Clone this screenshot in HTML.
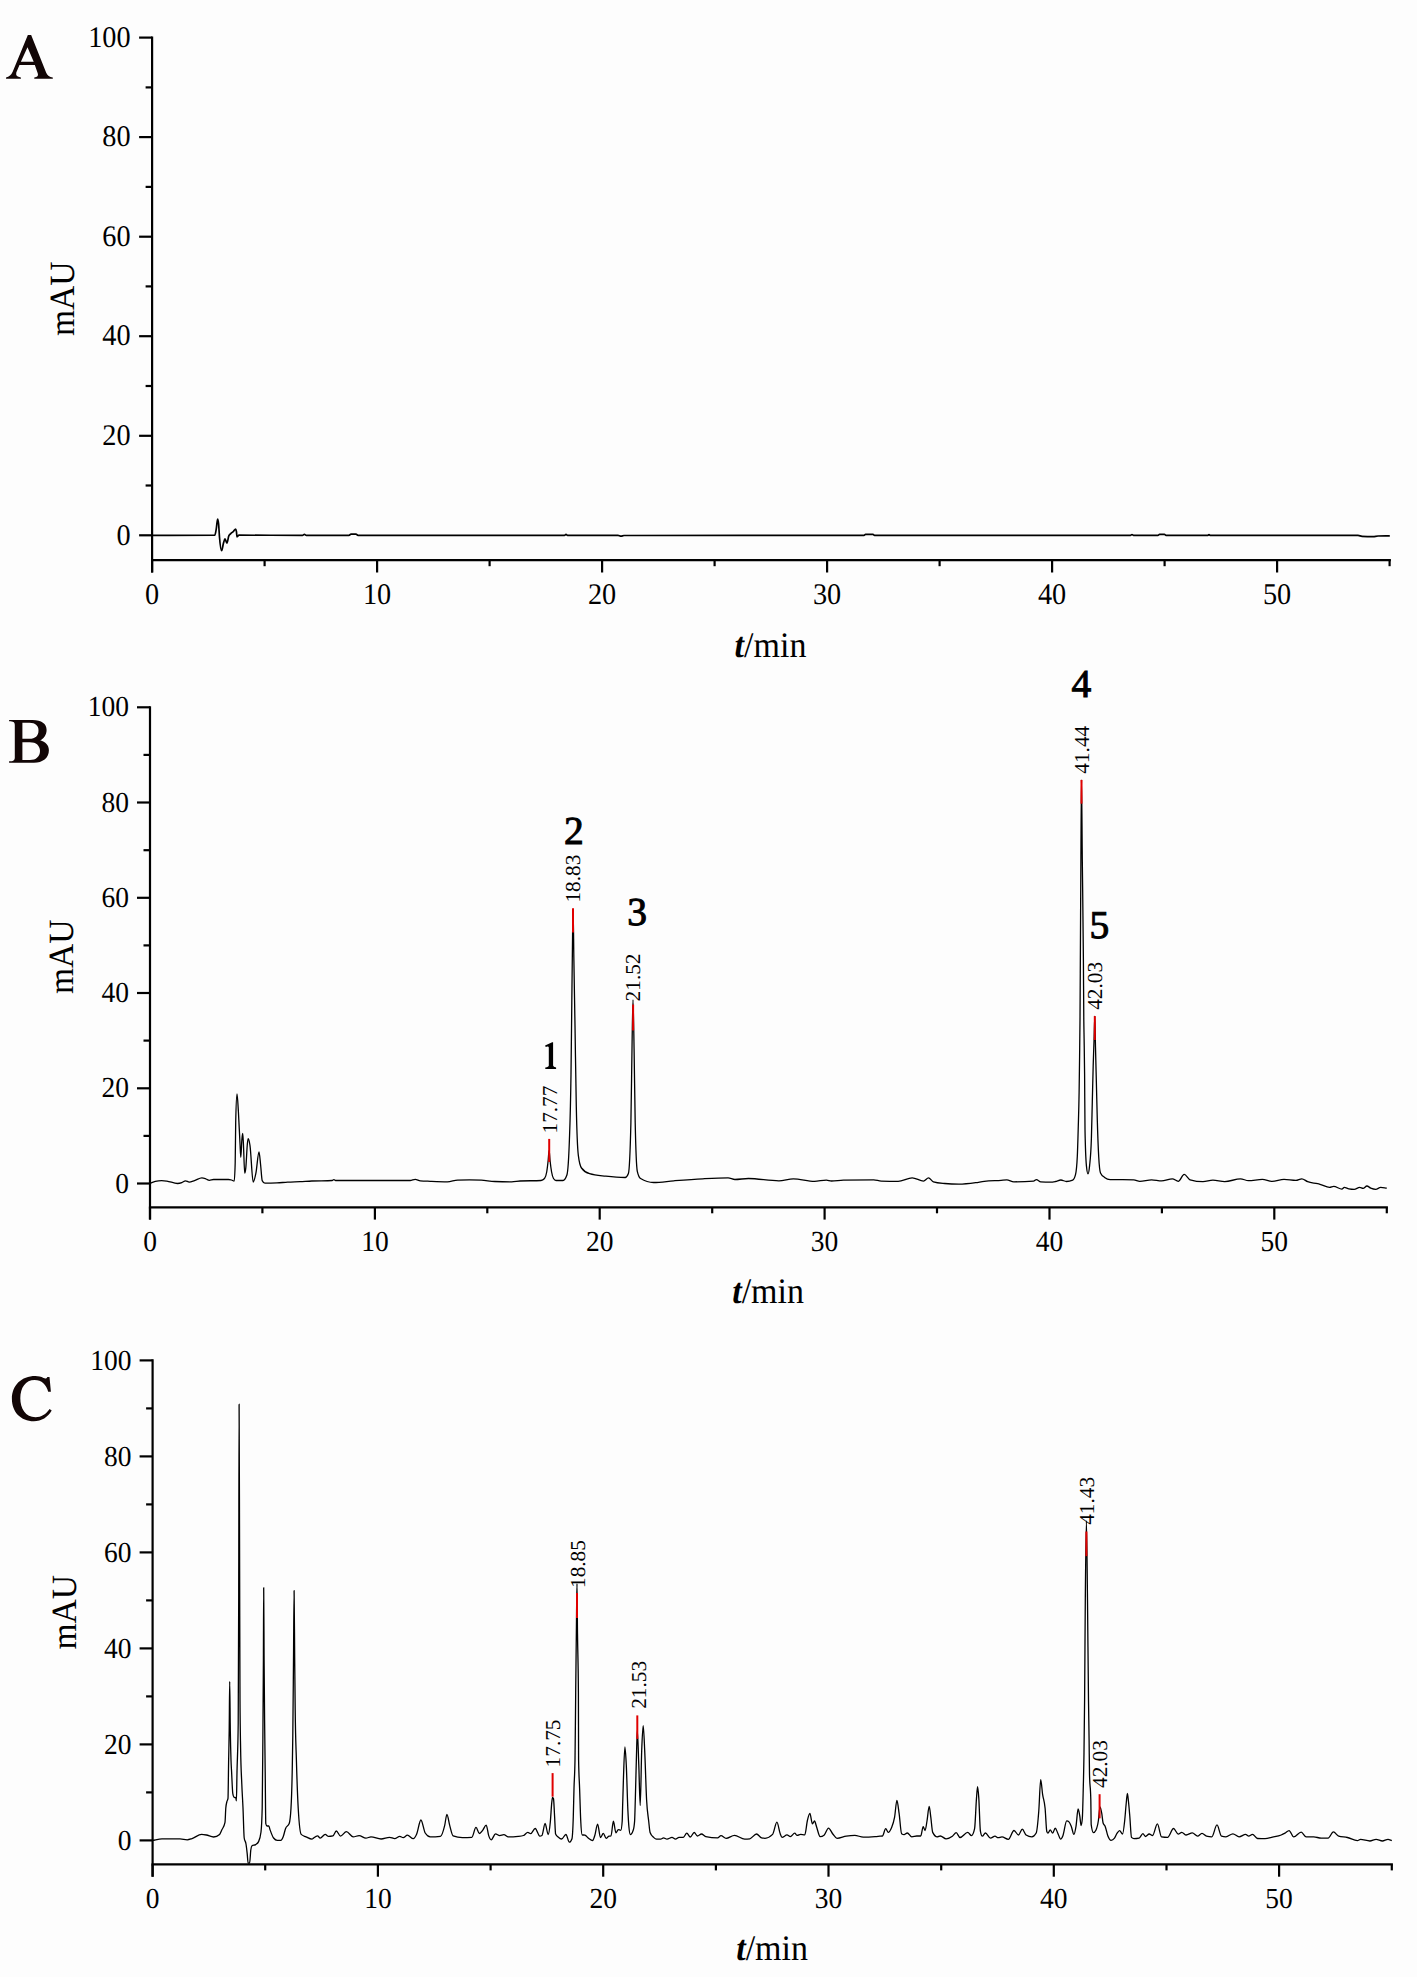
<!DOCTYPE html>
<html><head><meta charset="utf-8"><style>
html,body{margin:0;padding:0;background:#fdfdfd;}
body{width:1417px;height:1977px;overflow:hidden;font-family:"Liberation Serif",serif;}
svg{display:block}
</style></head><body>
<svg width="1417" height="1977" viewBox="0 0 1417 1977" font-family="Liberation Serif" text-rendering="geometricPrecision">
<line x1="152.1" y1="36.5" x2="152.1" y2="572.5" stroke="#000" stroke-width="2.2"/>
<line x1="151.0" y1="560.2" x2="1390.9" y2="560.2" stroke="#000" stroke-width="2.2"/>
<line x1="139.1" y1="535.3" x2="152.1" y2="535.3" stroke="#000" stroke-width="2.2"/>
<text transform="translate(130.6,544.5) scale(1,1.06)" font-size="28.3" text-anchor="end">0</text>
<line x1="145.6" y1="485.5" x2="152.1" y2="485.5" stroke="#000" stroke-width="2.2"/>
<line x1="139.1" y1="435.8" x2="152.1" y2="435.8" stroke="#000" stroke-width="2.2"/>
<text transform="translate(130.6,445.0) scale(1,1.06)" font-size="28.3" text-anchor="end">20</text>
<line x1="145.6" y1="386.0" x2="152.1" y2="386.0" stroke="#000" stroke-width="2.2"/>
<line x1="139.1" y1="336.2" x2="152.1" y2="336.2" stroke="#000" stroke-width="2.2"/>
<text transform="translate(130.6,345.4) scale(1,1.06)" font-size="28.3" text-anchor="end">40</text>
<line x1="145.6" y1="286.4" x2="152.1" y2="286.4" stroke="#000" stroke-width="2.2"/>
<line x1="139.1" y1="236.7" x2="152.1" y2="236.7" stroke="#000" stroke-width="2.2"/>
<text transform="translate(130.6,245.9) scale(1,1.06)" font-size="28.3" text-anchor="end">60</text>
<line x1="145.6" y1="186.9" x2="152.1" y2="186.9" stroke="#000" stroke-width="2.2"/>
<line x1="139.1" y1="137.1" x2="152.1" y2="137.1" stroke="#000" stroke-width="2.2"/>
<text transform="translate(130.6,146.3) scale(1,1.06)" font-size="28.3" text-anchor="end">80</text>
<line x1="145.6" y1="87.4" x2="152.1" y2="87.4" stroke="#000" stroke-width="2.2"/>
<line x1="139.1" y1="37.6" x2="152.1" y2="37.6" stroke="#000" stroke-width="2.2"/>
<text transform="translate(130.6,46.8) scale(1,1.06)" font-size="28.3" text-anchor="end">100</text>
<line x1="152.1" y1="560.2" x2="152.1" y2="572.5" stroke="#000" stroke-width="2.2"/>
<text transform="translate(152.1,603.8) scale(1,1.06)" font-size="28.3" text-anchor="middle">0</text>
<line x1="264.6" y1="560.2" x2="264.6" y2="566.2" stroke="#000" stroke-width="2.2"/>
<line x1="377.1" y1="560.2" x2="377.1" y2="572.5" stroke="#000" stroke-width="2.2"/>
<text transform="translate(377.1,603.8) scale(1,1.06)" font-size="28.3" text-anchor="middle">10</text>
<line x1="489.6" y1="560.2" x2="489.6" y2="566.2" stroke="#000" stroke-width="2.2"/>
<line x1="602.1" y1="560.2" x2="602.1" y2="572.5" stroke="#000" stroke-width="2.2"/>
<text transform="translate(602.1,603.8) scale(1,1.06)" font-size="28.3" text-anchor="middle">20</text>
<line x1="714.6" y1="560.2" x2="714.6" y2="566.2" stroke="#000" stroke-width="2.2"/>
<line x1="827.1" y1="560.2" x2="827.1" y2="572.5" stroke="#000" stroke-width="2.2"/>
<text transform="translate(827.1,603.8) scale(1,1.06)" font-size="28.3" text-anchor="middle">30</text>
<line x1="939.6" y1="560.2" x2="939.6" y2="566.2" stroke="#000" stroke-width="2.2"/>
<line x1="1052.1" y1="560.2" x2="1052.1" y2="572.5" stroke="#000" stroke-width="2.2"/>
<text transform="translate(1052.1,603.8) scale(1,1.06)" font-size="28.3" text-anchor="middle">40</text>
<line x1="1164.6" y1="560.2" x2="1164.6" y2="566.2" stroke="#000" stroke-width="2.2"/>
<line x1="1277.1" y1="560.2" x2="1277.1" y2="572.5" stroke="#000" stroke-width="2.2"/>
<text transform="translate(1277.1,603.8) scale(1,1.06)" font-size="28.3" text-anchor="middle">50</text>
<line x1="1389.6" y1="560.2" x2="1389.6" y2="566.2" stroke="#000" stroke-width="2.2"/>
<text transform="translate(734.6,657.1) scale(1,1.06)" font-size="34" text-anchor="start"><tspan font-weight="bold" font-style="italic">t</tspan>/min</text>
<text transform="translate(73.8,336.0) rotate(-90) scale(0.945,1)" font-size="35.5">mAU</text>
<path d="M27.85,35.02 L31.16,35.02 L46.2,72.63 Q47.8,76.6 52.81,77.4 L52.81,78.87 L34.28,78.87 L34.28,77.4 Q38.9,77.0 37.8,73.4 L34.83,64.93 L19.48,64.93 L16.3,72.6 Q15.2,77.0 20.88,77.4 L20.88,78.87 L6.02,78.87 L6.02,77.4 Q10.6,76.6 12.8,71.4 Z M27.49,47.13 L33.72,61.81 L20.88,61.81 Z" fill="#120606" fill-rule="evenodd"/>
<line x1="150.0" y1="706.2" x2="150.0" y2="1219.6" stroke="#000" stroke-width="2.2"/>
<line x1="148.9" y1="1207.3" x2="1387.9" y2="1207.3" stroke="#000" stroke-width="2.2"/>
<line x1="137.0" y1="1183.5" x2="150.0" y2="1183.5" stroke="#000" stroke-width="2.2"/>
<text transform="translate(129.0,1192.6) scale(1,1.06)" font-size="27.5" text-anchor="end">0</text>
<line x1="143.5" y1="1135.9" x2="150.0" y2="1135.9" stroke="#000" stroke-width="2.2"/>
<line x1="137.0" y1="1088.3" x2="150.0" y2="1088.3" stroke="#000" stroke-width="2.2"/>
<text transform="translate(129.0,1097.4) scale(1,1.06)" font-size="27.5" text-anchor="end">20</text>
<line x1="143.5" y1="1040.6" x2="150.0" y2="1040.6" stroke="#000" stroke-width="2.2"/>
<line x1="137.0" y1="993.0" x2="150.0" y2="993.0" stroke="#000" stroke-width="2.2"/>
<text transform="translate(129.0,1002.1) scale(1,1.06)" font-size="27.5" text-anchor="end">40</text>
<line x1="143.5" y1="945.4" x2="150.0" y2="945.4" stroke="#000" stroke-width="2.2"/>
<line x1="137.0" y1="897.8" x2="150.0" y2="897.8" stroke="#000" stroke-width="2.2"/>
<text transform="translate(129.0,906.9) scale(1,1.06)" font-size="27.5" text-anchor="end">60</text>
<line x1="143.5" y1="850.2" x2="150.0" y2="850.2" stroke="#000" stroke-width="2.2"/>
<line x1="137.0" y1="802.5" x2="150.0" y2="802.5" stroke="#000" stroke-width="2.2"/>
<text transform="translate(129.0,811.6) scale(1,1.06)" font-size="27.5" text-anchor="end">80</text>
<line x1="143.5" y1="754.9" x2="150.0" y2="754.9" stroke="#000" stroke-width="2.2"/>
<line x1="137.0" y1="707.3" x2="150.0" y2="707.3" stroke="#000" stroke-width="2.2"/>
<text transform="translate(129.0,716.4) scale(1,1.06)" font-size="27.5" text-anchor="end">100</text>
<line x1="150.0" y1="1207.3" x2="150.0" y2="1219.6" stroke="#000" stroke-width="2.2"/>
<text transform="translate(150.0,1250.9) scale(1,1.06)" font-size="27.5" text-anchor="middle">0</text>
<line x1="262.4" y1="1207.3" x2="262.4" y2="1213.3" stroke="#000" stroke-width="2.2"/>
<line x1="374.9" y1="1207.3" x2="374.9" y2="1219.6" stroke="#000" stroke-width="2.2"/>
<text transform="translate(374.9,1250.9) scale(1,1.06)" font-size="27.5" text-anchor="middle">10</text>
<line x1="487.3" y1="1207.3" x2="487.3" y2="1213.3" stroke="#000" stroke-width="2.2"/>
<line x1="599.7" y1="1207.3" x2="599.7" y2="1219.6" stroke="#000" stroke-width="2.2"/>
<text transform="translate(599.7,1250.9) scale(1,1.06)" font-size="27.5" text-anchor="middle">20</text>
<line x1="712.2" y1="1207.3" x2="712.2" y2="1213.3" stroke="#000" stroke-width="2.2"/>
<line x1="824.6" y1="1207.3" x2="824.6" y2="1219.6" stroke="#000" stroke-width="2.2"/>
<text transform="translate(824.6,1250.9) scale(1,1.06)" font-size="27.5" text-anchor="middle">30</text>
<line x1="937.0" y1="1207.3" x2="937.0" y2="1213.3" stroke="#000" stroke-width="2.2"/>
<line x1="1049.5" y1="1207.3" x2="1049.5" y2="1219.6" stroke="#000" stroke-width="2.2"/>
<text transform="translate(1049.5,1250.9) scale(1,1.06)" font-size="27.5" text-anchor="middle">40</text>
<line x1="1161.9" y1="1207.3" x2="1161.9" y2="1213.3" stroke="#000" stroke-width="2.2"/>
<line x1="1274.3" y1="1207.3" x2="1274.3" y2="1219.6" stroke="#000" stroke-width="2.2"/>
<text transform="translate(1274.3,1250.9) scale(1,1.06)" font-size="27.5" text-anchor="middle">50</text>
<line x1="1386.8" y1="1207.3" x2="1386.8" y2="1213.3" stroke="#000" stroke-width="2.2"/>
<text transform="translate(732.2,1303.0) scale(1,1.06)" font-size="34" text-anchor="start"><tspan font-weight="bold" font-style="italic">t</tspan>/min</text>
<text transform="translate(73.0,994.1) rotate(-90) scale(0.945,1)" font-size="35.5">mAU</text>
<path d="M9.1,719.95 L32.6,719.95 C41.5,719.95 46.6,723.8 46.6,729.9 C46.6,735.0 43.5,738.5 40.2,740.3 C45.5,741.8 48.9,745.3 48.9,750.2 C48.9,758.0 42.5,762.7 34.0,762.7 L9.1,762.7 L9.1,761.3 C13.2,761.3 14.8,760.5 14.8,757.5 L14.8,725.2 C14.8,722.0 13.2,721.3 9.1,721.3 Z M22.4,722.7 L29.5,722.7 C35.5,722.7 38.5,725.8 38.5,730.5 C38.5,735.8 35.2,738.8 29.5,738.8 L22.4,738.8 Z M22.4,742.2 L29.8,742.2 C36.2,742.2 40.0,745.6 40.0,751.0 C40.0,756.6 36.0,760.0 30.0,760.0 L22.4,760.0 Z" fill="#120606" fill-rule="evenodd"/>
<line x1="152.6" y1="1359.3" x2="152.6" y2="1876.7" stroke="#000" stroke-width="2.2"/>
<line x1="151.5" y1="1864.4" x2="1392.9" y2="1864.4" stroke="#000" stroke-width="2.2"/>
<line x1="139.6" y1="1840.4" x2="152.6" y2="1840.4" stroke="#000" stroke-width="2.2"/>
<text transform="translate(131.6,1850.0) scale(1,1.06)" font-size="27.5" text-anchor="end">0</text>
<line x1="146.1" y1="1792.4" x2="152.6" y2="1792.4" stroke="#000" stroke-width="2.2"/>
<line x1="139.6" y1="1744.4" x2="152.6" y2="1744.4" stroke="#000" stroke-width="2.2"/>
<text transform="translate(131.6,1754.0) scale(1,1.06)" font-size="27.5" text-anchor="end">20</text>
<line x1="146.1" y1="1696.4" x2="152.6" y2="1696.4" stroke="#000" stroke-width="2.2"/>
<line x1="139.6" y1="1648.4" x2="152.6" y2="1648.4" stroke="#000" stroke-width="2.2"/>
<text transform="translate(131.6,1658.0) scale(1,1.06)" font-size="27.5" text-anchor="end">40</text>
<line x1="146.1" y1="1600.4" x2="152.6" y2="1600.4" stroke="#000" stroke-width="2.2"/>
<line x1="139.6" y1="1552.4" x2="152.6" y2="1552.4" stroke="#000" stroke-width="2.2"/>
<text transform="translate(131.6,1562.0) scale(1,1.06)" font-size="27.5" text-anchor="end">60</text>
<line x1="146.1" y1="1504.4" x2="152.6" y2="1504.4" stroke="#000" stroke-width="2.2"/>
<line x1="139.6" y1="1456.4" x2="152.6" y2="1456.4" stroke="#000" stroke-width="2.2"/>
<text transform="translate(131.6,1466.0) scale(1,1.06)" font-size="27.5" text-anchor="end">80</text>
<line x1="146.1" y1="1408.4" x2="152.6" y2="1408.4" stroke="#000" stroke-width="2.2"/>
<line x1="139.6" y1="1360.4" x2="152.6" y2="1360.4" stroke="#000" stroke-width="2.2"/>
<text transform="translate(131.6,1370.0) scale(1,1.06)" font-size="27.5" text-anchor="end">100</text>
<line x1="152.6" y1="1864.4" x2="152.6" y2="1876.7" stroke="#000" stroke-width="2.2"/>
<text transform="translate(152.6,1907.6) scale(1,1.06)" font-size="27.5" text-anchor="middle">0</text>
<line x1="265.2" y1="1864.4" x2="265.2" y2="1870.4" stroke="#000" stroke-width="2.2"/>
<line x1="377.9" y1="1864.4" x2="377.9" y2="1876.7" stroke="#000" stroke-width="2.2"/>
<text transform="translate(377.9,1907.6) scale(1,1.06)" font-size="27.5" text-anchor="middle">10</text>
<line x1="490.6" y1="1864.4" x2="490.6" y2="1870.4" stroke="#000" stroke-width="2.2"/>
<line x1="603.2" y1="1864.4" x2="603.2" y2="1876.7" stroke="#000" stroke-width="2.2"/>
<text transform="translate(603.2,1907.6) scale(1,1.06)" font-size="27.5" text-anchor="middle">20</text>
<line x1="715.9" y1="1864.4" x2="715.9" y2="1870.4" stroke="#000" stroke-width="2.2"/>
<line x1="828.5" y1="1864.4" x2="828.5" y2="1876.7" stroke="#000" stroke-width="2.2"/>
<text transform="translate(828.5,1907.6) scale(1,1.06)" font-size="27.5" text-anchor="middle">30</text>
<line x1="941.2" y1="1864.4" x2="941.2" y2="1870.4" stroke="#000" stroke-width="2.2"/>
<line x1="1053.8" y1="1864.4" x2="1053.8" y2="1876.7" stroke="#000" stroke-width="2.2"/>
<text transform="translate(1053.8,1907.6) scale(1,1.06)" font-size="27.5" text-anchor="middle">40</text>
<line x1="1166.5" y1="1864.4" x2="1166.5" y2="1870.4" stroke="#000" stroke-width="2.2"/>
<line x1="1279.1" y1="1864.4" x2="1279.1" y2="1876.7" stroke="#000" stroke-width="2.2"/>
<text transform="translate(1279.1,1907.6) scale(1,1.06)" font-size="27.5" text-anchor="middle">50</text>
<line x1="1391.8" y1="1864.4" x2="1391.8" y2="1870.4" stroke="#000" stroke-width="2.2"/>
<text transform="translate(736.2,1960.1) scale(1,1.06)" font-size="34" text-anchor="start"><tspan font-weight="bold" font-style="italic">t</tspan>/min</text>
<text transform="translate(76.3,1649.5) rotate(-90) scale(0.945,1)" font-size="35.5">mAU</text>
<path d="M48.2,1391.7 L50.9,1391.7 L49.5,1376.9 L47.4,1376.9 C46.5,1378.6 45.5,1378.8 43.5,1378.0 C41.0,1376.8 38.4,1376.1 35.3,1376.1 C21.5,1376.1 11.9,1385.5 11.9,1398.8 C11.9,1412.0 20.8,1421.3 33.8,1421.3 C41.7,1421.3 47.7,1417.4 51.7,1410.6 L49.6,1409.0 C46.0,1414.2 41.2,1417.2 35.6,1417.2 C25.5,1417.2 20.3,1408.5 20.3,1398.2 C20.3,1387.5 25.6,1379.9 34.6,1379.9 C41.6,1379.9 46.4,1384.6 48.2,1391.7 Z" fill="#120606" fill-rule="evenodd"/>
<path d="M152.10,535.30 C173.00,535.27 193.90,535.27 214.80,535.20 C215.30,535.20 215.80,531.70 216.30,528.70 C216.73,526.10 217.17,519.00 217.60,519.00 C217.93,519.00 218.27,520.67 218.60,524.00 C218.90,527.00 219.20,533.54 219.50,537.20 C220.20,545.74 220.90,550.70 221.60,550.70 C222.23,550.70 222.87,545.21 223.50,543.10 C224.00,541.44 224.50,538.90 225.00,538.90 C225.63,538.90 226.27,543.10 226.90,543.10 C227.53,543.10 228.17,537.45 228.80,535.90 C229.37,534.52 229.93,534.42 230.50,533.80 C231.50,532.71 232.50,532.26 233.50,531.30 C234.20,530.63 234.90,529.10 235.60,529.10 C235.87,529.10 236.13,529.83 236.40,531.30 C236.60,532.40 236.80,536.80 237.00,536.80 C237.67,536.80 238.33,535.20 239.00,535.20 C260.17,535.20 281.33,535.30 302.50,535.30 C303.13,535.30 303.77,534.30 304.40,534.30 C305.03,534.30 305.67,535.30 306.30,535.30 C320.53,535.30 334.77,535.30 349.00,535.30 C349.67,535.30 350.33,534.20 351.00,534.20 C352.67,534.20 354.33,534.20 356.00,534.20 C356.67,534.20 357.33,535.30 358.00,535.30 C426.83,535.30 495.67,535.30 564.50,535.30 C565.00,535.30 565.50,534.40 566.00,534.40 C566.50,534.40 567.00,535.30 567.50,535.30 C584.33,535.30 601.17,535.30 618.00,535.30 C619.00,535.30 620.00,536.20 621.00,536.20 C622.00,536.20 623.00,535.50 624.00,535.50 C704.00,535.37 784.00,535.43 864.00,535.30 C864.50,535.30 865.00,534.30 865.50,534.30 C868.00,534.30 870.50,534.30 873.00,534.30 C873.50,534.30 874.00,535.30 874.50,535.30 C959.83,535.30 1045.17,535.30 1130.50,535.30 C1131.00,535.30 1131.50,534.50 1132.00,534.50 C1132.50,534.50 1133.00,535.30 1133.50,535.30 C1141.67,535.30 1149.83,535.30 1158.00,535.30 C1158.50,535.30 1159.00,534.40 1159.50,534.40 C1161.17,534.40 1162.83,534.40 1164.50,534.40 C1165.00,534.40 1165.50,535.30 1166.00,535.30 C1180.00,535.30 1194.00,535.30 1208.00,535.30 C1208.33,535.30 1208.67,534.50 1209.00,534.50 C1209.33,534.50 1209.67,535.30 1210.00,535.30 C1259.33,535.37 1308.67,535.33 1358.00,535.40 C1359.33,535.40 1360.67,536.23 1362.00,536.30 C1365.67,536.50 1369.33,536.60 1373.00,536.60 C1374.67,536.60 1376.33,536.06 1378.00,536.00 C1381.93,535.87 1385.87,535.87 1389.80,535.80" fill="none" stroke="#000" stroke-width="1.7" stroke-linejoin="round"/>
<path d="M150.00,1183.20 C151.77,1182.60 153.53,1181.83 155.30,1181.40 C157.40,1180.89 159.50,1180.60 161.60,1180.60 C163.37,1180.60 165.13,1180.86 166.90,1181.10 C170.43,1181.59 173.97,1183.50 177.50,1183.50 C178.93,1183.50 180.37,1183.22 181.80,1182.70 C183.03,1182.25 184.27,1180.80 185.50,1180.80 C186.73,1180.80 187.97,1182.10 189.20,1182.10 C190.97,1182.10 192.73,1181.16 194.50,1180.60 C196.97,1179.82 199.43,1177.90 201.90,1177.90 C203.30,1177.90 204.70,1178.52 206.10,1179.00 C207.17,1179.37 208.23,1180.30 209.30,1180.30 C210.70,1180.30 212.10,1179.50 213.50,1179.50 C218.43,1179.50 223.37,1179.50 228.30,1179.50 C229.37,1179.50 230.43,1179.69 231.50,1180.00 C232.40,1180.26 233.30,1181.10 234.20,1181.10 C234.53,1181.10 234.87,1174.93 235.20,1162.60 C235.37,1156.43 235.53,1129.61 235.70,1122.30 C236.13,1103.30 236.57,1093.80 237.00,1093.80 C237.47,1093.80 237.93,1104.29 238.40,1111.80 C238.93,1120.39 239.47,1133.84 240.00,1143.50 C240.27,1148.33 240.53,1157.30 240.80,1157.30 C241.17,1157.30 241.53,1143.37 241.90,1139.30 C242.17,1136.34 242.43,1133.50 242.70,1133.50 C242.93,1133.50 243.17,1139.47 243.40,1143.50 C243.83,1150.99 244.27,1173.20 244.70,1173.20 C245.07,1173.20 245.43,1171.23 245.80,1167.90 C246.33,1163.06 246.87,1148.34 247.40,1143.50 C247.67,1141.08 247.93,1138.70 248.20,1138.70 C248.80,1138.70 249.40,1141.66 250.00,1145.60 C251.07,1152.60 252.13,1182.10 253.20,1182.10 C254.10,1182.10 255.00,1177.65 255.90,1173.20 C256.93,1168.09 257.97,1152.00 259.00,1152.00 C259.53,1152.00 260.07,1159.93 260.60,1164.70 C261.13,1169.47 261.67,1179.57 262.20,1180.60 C263.10,1182.33 264.00,1183.20 264.90,1183.20 C268.93,1183.20 272.97,1183.10 277.00,1182.90 C280.53,1182.72 284.07,1182.31 287.60,1182.10 C291.73,1181.86 295.87,1181.79 300.00,1181.60 C303.97,1181.42 307.93,1181.16 311.90,1181.00 C318.67,1180.72 325.43,1180.83 332.20,1180.50 C332.77,1180.47 333.33,1179.60 333.90,1179.60 C334.43,1179.60 334.97,1180.50 335.50,1180.50 C360.37,1180.50 385.23,1180.50 410.10,1180.50 C411.80,1180.50 413.50,1179.30 415.20,1179.30 C416.90,1179.30 418.60,1180.63 420.30,1180.80 C423.67,1181.13 427.03,1181.16 430.40,1181.30 C436.07,1181.54 441.73,1181.80 447.40,1181.80 C450.77,1181.80 454.13,1180.27 457.50,1180.10 C461.47,1179.90 465.43,1179.80 469.40,1179.80 C473.33,1179.80 477.27,1179.90 481.20,1180.10 C485.73,1180.33 490.27,1181.34 494.80,1181.50 C500.43,1181.70 506.07,1181.80 511.70,1181.80 C514.47,1181.80 517.23,1181.13 520.00,1181.00 C527.00,1180.67 534.00,1180.83 541.00,1180.50 C542.17,1180.44 543.33,1179.83 544.50,1178.50 C545.23,1177.66 545.97,1176.33 546.70,1172.00 C547.20,1169.05 547.70,1164.80 548.20,1160.00 C548.50,1157.12 548.80,1150.50 549.10,1150.50 C549.40,1150.50 549.70,1157.16 550.00,1160.00 C550.53,1165.04 551.07,1168.99 551.60,1172.00 C552.23,1175.57 552.87,1177.49 553.50,1178.50 C554.33,1179.83 555.17,1180.50 556.00,1180.50 C558.33,1180.50 560.67,1180.50 563.00,1180.50 C564.30,1180.50 565.60,1178.67 566.90,1175.00 C567.73,1172.65 568.57,1163.33 569.40,1140.00 C569.93,1125.07 570.47,1113.16 571.00,1074.20 C571.27,1054.72 571.53,1026.47 571.80,1003.00 C572.07,979.53 572.33,950.30 572.60,933.40 C572.77,922.84 572.93,909.10 573.10,909.10 C573.37,909.10 573.63,944.30 573.90,960.90 C574.27,983.73 574.63,1003.45 575.00,1025.60 C575.43,1051.78 575.87,1086.10 576.30,1106.60 C576.97,1138.14 577.63,1149.72 578.30,1155.10 C579.37,1163.70 580.43,1166.50 581.50,1168.00 C584.20,1171.80 586.90,1172.87 589.60,1173.70 C595.00,1175.37 600.40,1175.58 605.80,1176.20 C612.27,1176.94 618.73,1177.50 625.20,1177.50 C626.27,1177.50 627.33,1176.17 628.40,1173.50 C629.23,1171.42 630.07,1156.60 630.90,1122.80 C631.30,1106.58 631.70,1064.04 632.10,1041.80 C632.40,1025.12 632.70,999.80 633.00,999.80 C633.37,999.80 633.73,1029.40 634.10,1049.90 C634.47,1070.40 634.83,1105.86 635.20,1122.80 C635.90,1155.13 636.60,1168.25 637.30,1171.30 C638.40,1176.10 639.50,1177.82 640.60,1178.50 C644.93,1181.17 649.27,1182.50 653.60,1182.50 C660.37,1182.50 667.13,1181.33 673.90,1180.80 C683.50,1180.05 693.10,1179.29 702.70,1178.80 C711.17,1178.37 719.63,1177.90 728.10,1177.90 C730.37,1177.90 732.63,1179.50 734.90,1179.50 C739.40,1179.50 743.90,1178.50 748.40,1178.50 C758.57,1178.50 768.73,1180.80 778.90,1180.80 C783.70,1180.80 788.50,1178.80 793.30,1178.80 C800.37,1178.80 807.43,1181.30 814.50,1181.30 C818.43,1181.30 822.37,1180.10 826.30,1180.10 C828.00,1180.10 829.70,1181.00 831.40,1181.00 C835.37,1181.00 839.33,1180.18 843.30,1180.10 C853.43,1179.90 863.57,1179.80 873.70,1179.80 C876.20,1179.80 878.70,1181.04 881.20,1181.10 C886.83,1181.23 892.47,1181.30 898.10,1181.30 C902.80,1181.30 907.50,1177.80 912.20,1177.80 C915.97,1177.80 919.73,1181.10 923.50,1181.10 C925.17,1181.10 926.83,1177.90 928.50,1177.90 C930.13,1177.90 931.77,1181.31 933.40,1181.80 C937.17,1182.93 940.93,1183.13 944.70,1183.50 C949.40,1183.97 954.10,1184.20 958.80,1184.20 C964.43,1184.20 970.07,1183.48 975.70,1182.70 C978.53,1182.31 981.37,1181.64 984.20,1181.30 C989.83,1180.63 995.47,1180.68 1001.10,1180.30 C1003.00,1180.17 1004.90,1179.90 1006.80,1179.90 C1009.13,1179.90 1011.47,1181.80 1013.80,1181.80 C1020.40,1181.80 1027.00,1181.57 1033.60,1181.10 C1034.53,1181.03 1035.47,1179.60 1036.40,1179.60 C1037.83,1179.60 1039.27,1181.68 1040.70,1181.80 C1043.97,1182.07 1047.23,1182.20 1050.50,1182.20 C1052.17,1182.20 1053.83,1181.84 1055.50,1181.50 C1057.30,1181.13 1059.10,1180.00 1060.90,1180.00 C1062.73,1180.00 1064.57,1181.50 1066.40,1181.50 C1068.50,1181.50 1070.60,1181.07 1072.70,1180.20 C1073.63,1179.81 1074.57,1178.37 1075.50,1174.70 C1076.10,1172.34 1076.70,1168.63 1077.30,1156.50 C1077.60,1150.43 1077.90,1139.82 1078.20,1129.20 C1078.50,1118.58 1078.80,1111.17 1079.10,1092.80 C1079.27,1082.59 1079.43,1070.22 1079.60,1056.40 C1079.73,1045.35 1079.87,1037.73 1080.00,1020.00 C1080.13,1002.27 1080.27,973.63 1080.40,950.00 C1080.57,920.46 1080.73,886.48 1080.90,860.00 C1081.10,828.23 1081.30,779.90 1081.50,779.90 C1081.77,779.90 1082.03,834.33 1082.30,860.00 C1082.67,895.29 1083.03,910.78 1083.40,960.00 C1083.53,977.90 1083.67,1006.81 1083.80,1020.00 C1083.90,1029.90 1084.00,1031.68 1084.10,1038.20 C1084.27,1049.07 1084.43,1056.57 1084.60,1074.60 C1084.73,1089.03 1084.87,1122.27 1085.00,1129.20 C1085.47,1153.47 1085.93,1160.82 1086.40,1165.60 C1086.93,1171.07 1087.47,1173.80 1088.00,1173.80 C1088.53,1173.80 1089.07,1170.85 1089.60,1165.60 C1090.20,1159.69 1090.80,1156.50 1091.40,1138.30 C1091.70,1129.20 1092.00,1114.03 1092.30,1101.90 C1092.60,1089.77 1092.90,1076.12 1093.20,1065.50 C1093.50,1054.88 1093.80,1047.51 1094.10,1038.20 C1094.33,1030.96 1094.57,1016.10 1094.80,1016.10 C1095.03,1016.10 1095.27,1037.32 1095.50,1047.30 C1095.80,1060.13 1096.10,1071.57 1096.40,1083.70 C1096.70,1095.83 1097.00,1109.66 1097.30,1120.10 C1097.77,1136.34 1098.23,1148.00 1098.70,1156.50 C1099.30,1167.43 1099.90,1171.58 1100.50,1172.90 C1101.87,1175.90 1103.23,1176.30 1104.60,1177.40 C1106.43,1178.88 1108.27,1179.70 1110.10,1179.70 C1114.33,1179.70 1118.57,1179.70 1122.80,1179.70 C1126.47,1179.70 1130.13,1179.73 1133.80,1179.80 C1135.80,1179.84 1137.80,1181.30 1139.80,1181.30 C1143.73,1181.30 1147.67,1179.80 1151.60,1179.80 C1154.90,1179.80 1158.20,1180.90 1161.50,1180.90 C1165.13,1180.90 1168.77,1178.80 1172.40,1178.80 C1174.37,1178.80 1176.33,1181.30 1178.30,1181.30 C1180.27,1181.30 1182.23,1174.40 1184.20,1174.40 C1186.17,1174.40 1188.13,1179.22 1190.10,1179.80 C1194.40,1181.07 1198.70,1181.70 1203.00,1181.70 C1206.30,1181.70 1209.60,1180.20 1212.90,1180.20 C1216.83,1180.20 1220.77,1181.70 1224.70,1181.70 C1229.97,1181.70 1235.23,1178.80 1240.50,1178.80 C1243.13,1178.80 1245.77,1180.70 1248.40,1180.70 C1253.03,1180.70 1257.67,1179.40 1262.30,1179.40 C1265.57,1179.40 1268.83,1181.30 1272.10,1181.30 C1276.07,1181.30 1280.03,1179.40 1284.00,1179.40 C1287.97,1179.40 1291.93,1180.40 1295.90,1180.40 C1297.87,1180.40 1299.83,1178.80 1301.80,1178.80 C1303.77,1178.80 1305.73,1180.95 1307.70,1181.70 C1311.00,1182.97 1314.30,1182.91 1317.60,1183.70 C1318.40,1183.89 1319.20,1184.09 1320.00,1184.30 C1323.20,1185.15 1326.40,1187.40 1329.60,1187.40 C1330.97,1187.40 1332.33,1186.40 1333.70,1186.40 C1336.43,1186.40 1339.17,1189.10 1341.90,1189.10 C1342.70,1189.10 1343.50,1187.40 1344.30,1187.40 C1345.80,1187.40 1347.30,1188.52 1348.80,1188.80 C1350.60,1189.13 1352.40,1189.30 1354.20,1189.30 C1356.03,1189.30 1357.87,1187.40 1359.70,1187.40 C1360.83,1187.40 1361.97,1188.40 1363.10,1188.40 C1364.37,1188.40 1365.63,1186.00 1366.90,1186.00 C1368.17,1186.00 1369.43,1187.57 1370.70,1188.10 C1372.40,1188.81 1374.10,1189.30 1375.80,1189.30 C1377.40,1189.30 1379.00,1187.40 1380.60,1187.40 C1382.67,1187.40 1384.73,1187.87 1386.80,1188.10" fill="none" stroke="#000" stroke-width="1.3" stroke-linejoin="round"/>
<path d="M152.60,1840.40 C155.73,1839.90 158.87,1838.90 162.00,1838.90 C168.00,1838.90 174.00,1838.90 180.00,1838.90 C182.40,1838.90 184.80,1839.80 187.20,1839.80 C188.80,1839.80 190.40,1839.10 192.00,1838.60 C195.20,1837.60 198.40,1834.40 201.60,1834.40 C203.20,1834.40 204.80,1834.70 206.40,1835.00 C208.80,1835.45 211.20,1837.00 213.60,1837.00 C215.60,1837.00 217.60,1836.13 219.60,1834.40 C220.40,1833.71 221.20,1831.34 222.00,1829.60 C223.00,1827.42 224.00,1827.20 225.00,1822.40 C225.27,1821.12 225.53,1811.20 225.80,1808.00 C226.13,1804.00 226.47,1803.55 226.80,1802.00 C227.20,1800.15 227.60,1800.80 228.00,1798.40 C228.20,1797.20 228.40,1773.80 228.60,1762.40 C228.80,1751.00 229.00,1745.53 229.20,1730.00 C229.37,1717.05 229.53,1681.30 229.70,1681.30 C229.90,1681.30 230.10,1717.30 230.30,1730.00 C230.53,1744.81 230.77,1752.87 231.00,1760.00 C231.20,1766.11 231.40,1768.13 231.60,1772.00 C232.00,1779.73 232.40,1791.20 232.80,1793.60 C233.20,1796.00 233.60,1796.93 234.00,1797.20 C234.60,1797.60 235.20,1797.40 235.80,1797.80 C236.00,1797.93 236.20,1800.80 236.40,1800.80 C236.60,1800.80 236.80,1781.07 237.00,1772.00 C237.40,1753.87 237.80,1756.00 238.20,1724.00 C238.37,1710.67 238.53,1663.69 238.70,1600.00 C238.83,1549.04 238.97,1404.20 239.10,1404.20 C239.27,1404.20 239.43,1504.51 239.60,1560.00 C239.73,1604.39 239.87,1678.67 240.00,1700.00 C240.20,1732.00 240.40,1736.00 240.60,1748.00 C241.00,1772.00 241.40,1774.00 241.80,1784.00 C242.20,1794.00 242.60,1799.00 243.00,1808.00 C243.40,1817.00 243.80,1835.33 244.20,1838.00 C244.80,1842.00 245.40,1840.32 246.00,1844.00 C246.40,1846.45 246.80,1849.79 247.20,1853.60 C247.50,1856.46 247.80,1863.20 248.10,1863.20 C248.60,1863.20 249.10,1863.20 249.60,1863.20 C250.00,1863.20 250.40,1852.80 250.80,1850.00 C251.20,1847.20 251.60,1846.07 252.00,1845.80 C253.20,1845.00 254.40,1845.40 255.60,1844.60 C256.60,1843.93 257.60,1843.60 258.60,1841.60 C259.40,1840.00 260.20,1838.40 261.00,1832.00 C261.40,1828.80 261.80,1824.00 262.20,1808.00 C262.40,1800.00 262.60,1772.67 262.80,1748.00 C263.00,1723.33 263.20,1701.91 263.40,1660.00 C263.50,1639.04 263.60,1587.70 263.70,1587.70 C263.83,1587.70 263.97,1639.50 264.10,1660.00 C264.27,1685.62 264.43,1702.53 264.60,1720.00 C264.80,1740.97 265.00,1754.73 265.20,1772.00 C265.40,1789.27 265.60,1822.80 265.80,1823.60 C266.20,1825.20 266.60,1826.00 267.00,1826.00 C267.60,1826.00 268.20,1826.00 268.80,1826.00 C269.20,1826.00 269.60,1828.47 270.00,1829.60 C271.20,1833.00 272.40,1836.40 273.60,1838.00 C274.80,1839.60 276.00,1840.40 277.20,1840.40 C278.40,1840.40 279.60,1840.40 280.80,1840.40 C281.60,1840.40 282.40,1838.80 283.20,1836.80 C284.00,1834.80 284.80,1830.51 285.60,1828.40 C286.80,1825.24 288.00,1826.80 289.20,1823.60 C289.80,1822.00 290.40,1818.40 291.00,1808.00 C291.40,1801.07 291.80,1792.00 292.20,1772.00 C292.40,1762.00 292.60,1752.48 292.80,1736.00 C293.03,1716.77 293.27,1686.22 293.50,1660.00 C293.70,1637.52 293.90,1590.60 294.10,1590.60 C294.30,1590.60 294.50,1638.58 294.70,1660.00 C294.87,1677.85 295.03,1696.19 295.20,1710.00 C295.60,1743.14 296.00,1745.73 296.40,1760.00 C297.00,1781.40 297.60,1797.44 298.20,1808.00 C299.20,1825.60 300.20,1833.40 301.20,1834.40 C302.80,1836.00 304.40,1836.07 306.00,1836.80 C308.00,1837.71 310.00,1839.20 312.00,1839.20 C312.47,1839.20 312.93,1838.44 313.40,1838.10 C314.80,1837.09 316.20,1835.90 317.60,1835.90 C318.47,1835.90 319.33,1838.10 320.20,1838.10 C321.87,1838.10 323.53,1834.40 325.20,1834.40 C326.33,1834.40 327.47,1836.40 328.60,1836.40 C330.03,1836.40 331.47,1836.23 332.90,1835.90 C334.03,1835.64 335.17,1831.00 336.30,1831.00 C337.70,1831.00 339.10,1836.10 340.50,1836.10 C342.47,1836.10 344.43,1831.70 346.40,1831.70 C348.67,1831.70 350.93,1836.90 353.20,1836.90 C355.17,1836.90 357.13,1835.60 359.10,1835.60 C361.37,1835.60 363.63,1838.10 365.90,1838.10 C367.60,1838.10 369.30,1836.90 371.00,1836.90 C374.37,1836.90 377.73,1839.00 381.10,1839.00 C383.93,1839.00 386.77,1837.30 389.60,1837.30 C391.30,1837.30 393.00,1838.60 394.70,1838.60 C396.40,1838.60 398.10,1836.40 399.80,1836.40 C400.93,1836.40 402.07,1837.60 403.20,1837.60 C404.60,1837.60 406.00,1835.20 407.40,1835.20 C409.37,1835.20 411.33,1838.60 413.30,1838.60 C414.43,1838.60 415.57,1836.44 416.70,1833.90 C418.10,1830.76 419.50,1820.00 420.90,1820.00 C422.33,1820.00 423.77,1830.81 425.20,1833.00 C426.90,1835.60 428.60,1836.90 430.30,1836.90 C433.67,1836.90 437.03,1836.73 440.40,1836.40 C441.83,1836.26 443.27,1831.38 444.70,1825.40 C445.43,1822.34 446.17,1814.40 446.90,1814.40 C447.83,1814.40 448.77,1822.09 449.70,1825.40 C450.83,1829.42 451.97,1835.49 453.10,1835.90 C456.20,1837.03 459.30,1837.60 462.40,1837.60 C465.53,1837.60 468.67,1837.50 471.80,1837.30 C473.20,1837.21 474.60,1827.40 476.00,1827.40 C477.13,1827.40 478.27,1833.50 479.40,1833.50 C480.53,1833.50 481.67,1831.50 482.80,1830.10 C483.93,1828.70 485.07,1825.10 486.20,1825.10 C487.03,1825.10 487.87,1833.15 488.70,1835.60 C489.53,1838.05 490.37,1839.80 491.20,1839.80 C492.63,1839.80 494.07,1833.90 495.50,1833.90 C496.90,1833.90 498.30,1835.60 499.70,1835.60 C501.10,1835.60 502.50,1834.70 503.90,1834.70 C505.33,1834.70 506.77,1836.90 508.20,1836.90 C511.57,1836.90 514.93,1836.73 518.30,1836.40 C520.03,1836.23 521.77,1836.10 523.50,1835.50 C524.93,1835.00 526.37,1832.30 527.80,1832.30 C528.73,1832.30 529.67,1833.70 530.60,1833.70 C532.13,1833.70 533.67,1828.50 535.20,1828.50 C536.73,1828.50 538.27,1836.20 539.80,1836.20 C540.50,1836.20 541.20,1835.97 541.90,1835.50 C542.97,1834.79 544.03,1823.50 545.10,1823.50 C546.13,1823.50 547.17,1834.50 548.20,1834.50 C548.90,1834.50 549.60,1829.21 550.30,1822.10 C550.80,1817.02 551.30,1806.79 551.80,1802.30 C552.03,1800.21 552.27,1797.40 552.50,1797.40 C552.83,1797.40 553.17,1797.87 553.50,1798.80 C553.87,1799.83 554.23,1810.31 554.60,1816.50 C554.93,1822.13 555.27,1833.35 555.60,1834.10 C556.43,1835.97 557.27,1836.15 558.10,1836.90 C559.27,1837.95 560.43,1839.00 561.60,1839.00 C563.03,1839.00 564.47,1834.50 565.90,1834.50 C567.07,1834.50 568.23,1842.20 569.40,1842.20 C570.23,1842.20 571.07,1841.13 571.90,1839.00 C572.37,1837.81 572.83,1831.50 573.30,1816.50 C573.53,1809.00 573.77,1796.46 574.00,1788.20 C574.33,1776.40 574.67,1778.80 575.00,1760.00 C575.23,1746.84 575.47,1714.07 575.70,1692.00 C575.97,1666.78 576.23,1639.58 576.50,1618.70 C576.67,1605.65 576.83,1583.70 577.00,1583.70 C577.17,1583.70 577.33,1618.79 577.50,1633.30 C577.80,1659.42 578.10,1652.87 578.40,1692.00 C578.47,1700.70 578.53,1756.24 578.60,1760.00 C578.93,1778.80 579.27,1778.69 579.60,1788.20 C579.97,1798.66 580.33,1812.36 580.70,1820.00 C581.17,1829.73 581.63,1834.67 582.10,1834.80 C583.03,1835.07 583.97,1834.93 584.90,1835.20 C586.10,1835.54 587.30,1837.45 588.50,1838.30 C589.90,1839.29 591.30,1840.50 592.70,1840.50 C593.40,1840.50 594.10,1837.66 594.80,1835.50 C595.73,1832.62 596.67,1824.20 597.60,1824.20 C598.57,1824.20 599.53,1837.60 600.50,1837.60 C601.43,1837.60 602.37,1833.40 603.30,1833.40 C604.23,1833.40 605.17,1838.30 606.10,1838.30 C607.03,1838.30 607.97,1836.47 608.90,1836.20 C609.60,1836.00 610.30,1836.10 611.00,1835.90 C611.80,1835.67 612.60,1821.20 613.40,1821.20 C614.23,1821.20 615.07,1832.80 615.90,1832.80 C616.70,1832.80 617.50,1829.60 618.30,1829.60 C619.13,1829.60 619.97,1830.30 620.80,1830.30 C621.27,1830.30 621.73,1827.27 622.20,1821.20 C622.33,1819.47 622.47,1811.74 622.60,1807.10 C622.87,1797.82 623.13,1787.93 623.40,1780.00 C623.90,1765.13 624.40,1747.00 624.90,1747.00 C625.37,1747.00 625.83,1755.88 626.30,1765.30 C626.83,1776.06 627.37,1799.48 627.90,1810.60 C628.23,1817.55 628.57,1823.09 628.90,1826.80 C629.37,1832.00 629.83,1834.60 630.30,1834.60 C631.27,1834.60 632.23,1833.17 633.20,1830.30 C633.67,1828.92 634.13,1827.27 634.60,1821.20 C634.83,1818.17 635.07,1807.70 635.30,1800.00 C635.73,1785.71 636.17,1764.61 636.60,1750.60 C636.83,1743.06 637.07,1730.10 637.30,1730.10 C637.80,1730.10 638.30,1752.21 638.80,1765.30 C639.27,1777.52 639.73,1805.50 640.20,1805.50 C640.70,1805.50 641.20,1763.90 641.70,1750.60 C642.20,1737.30 642.70,1725.70 643.20,1725.70 C643.70,1725.70 644.20,1740.23 644.70,1750.60 C645.33,1763.74 645.97,1788.32 646.60,1800.00 C647.30,1812.91 648.00,1814.98 648.70,1821.20 C649.17,1825.34 649.63,1831.19 650.10,1832.50 C651.27,1835.77 652.43,1836.26 653.60,1837.40 C654.57,1838.34 655.53,1839.20 656.50,1839.20 C657.90,1839.20 659.30,1839.20 660.70,1839.20 C661.63,1839.20 662.57,1837.80 663.50,1837.80 C664.67,1837.80 665.83,1839.20 667.00,1839.20 C668.67,1839.20 670.33,1837.40 672.00,1837.40 C673.17,1837.40 674.33,1839.20 675.50,1839.20 C676.67,1839.20 677.83,1837.45 679.00,1837.40 C680.43,1837.33 681.87,1837.37 683.30,1837.30 C684.47,1837.25 685.63,1833.20 686.80,1833.20 C687.97,1833.20 689.13,1837.00 690.30,1837.00 C691.60,1837.00 692.90,1832.50 694.20,1832.50 C695.27,1832.50 696.33,1836.00 697.40,1836.00 C698.77,1836.00 700.13,1834.00 701.50,1834.00 C702.90,1834.00 704.30,1836.32 705.70,1836.60 C709.67,1837.40 713.63,1837.80 717.60,1837.80 C718.73,1837.80 719.87,1835.70 721.00,1835.70 C722.70,1835.70 724.40,1838.30 726.10,1838.30 C728.90,1838.30 731.70,1835.40 734.50,1835.40 C737.90,1835.40 741.30,1839.10 744.70,1839.10 C746.40,1839.10 748.10,1839.00 749.80,1838.80 C752.03,1838.54 754.27,1834.00 756.50,1834.00 C758.20,1834.00 759.90,1837.30 761.60,1837.80 C762.73,1838.13 763.87,1838.30 765.00,1838.30 C767.53,1838.30 770.07,1837.00 772.60,1834.40 C774.03,1832.93 775.47,1822.20 776.90,1822.20 C778.03,1822.20 779.17,1831.18 780.30,1834.00 C780.87,1835.41 781.43,1837.40 782.00,1837.40 C783.67,1837.40 785.33,1834.90 787.00,1834.90 C788.13,1834.90 789.27,1836.60 790.40,1836.60 C791.83,1836.60 793.27,1833.20 794.70,1833.20 C795.53,1833.20 796.37,1835.40 797.20,1835.40 C798.33,1835.40 799.47,1834.40 800.60,1834.40 C802.00,1834.40 803.40,1834.90 804.80,1834.90 C805.67,1834.90 806.53,1824.11 807.40,1820.50 C808.23,1817.03 809.07,1813.40 809.90,1813.40 C810.73,1813.40 811.57,1823.90 812.40,1823.90 C813.10,1823.90 813.80,1821.00 814.50,1821.00 C815.23,1821.00 815.97,1825.24 816.70,1827.30 C817.83,1830.49 818.97,1836.60 820.10,1836.60 C821.50,1836.60 822.90,1836.03 824.30,1834.90 C825.70,1833.77 827.10,1828.10 828.50,1828.10 C829.93,1828.10 831.37,1832.29 832.80,1834.00 C834.20,1835.67 835.60,1838.30 837.00,1838.30 C840.10,1838.30 843.20,1836.58 846.30,1836.10 C849.13,1835.66 851.97,1835.40 854.80,1835.40 C857.63,1835.40 860.47,1837.10 863.30,1837.10 C867.23,1837.10 871.17,1836.88 875.10,1836.60 C876.73,1836.49 878.37,1836.33 880.00,1836.20 C880.83,1836.13 881.67,1836.13 882.50,1836.00 C883.57,1835.83 884.63,1828.60 885.70,1828.60 C886.57,1828.60 887.43,1832.40 888.30,1832.40 C889.33,1832.40 890.37,1830.46 891.40,1828.00 C892.47,1825.46 893.53,1823.24 894.60,1817.20 C895.37,1812.86 896.13,1800.40 896.90,1800.40 C897.63,1800.40 898.37,1808.31 899.10,1813.40 C899.93,1819.19 900.77,1833.03 901.60,1833.70 C902.43,1834.37 903.27,1834.70 904.10,1834.70 C905.17,1834.70 906.23,1833.00 907.30,1833.00 C908.80,1833.00 910.30,1836.90 911.80,1836.90 C913.47,1836.90 915.13,1836.00 916.80,1836.00 C918.10,1836.00 919.40,1836.00 920.70,1836.00 C921.53,1836.00 922.37,1826.70 923.20,1826.70 C923.83,1826.70 924.47,1830.50 925.10,1830.50 C925.73,1830.50 926.37,1824.65 927.00,1821.00 C927.73,1816.78 928.47,1806.40 929.20,1806.40 C929.73,1806.40 930.27,1813.30 930.80,1817.20 C931.43,1821.84 932.07,1831.13 932.70,1832.40 C934.20,1835.40 935.70,1836.90 937.20,1836.90 C938.23,1836.90 939.27,1836.00 940.30,1836.00 C942.23,1836.00 944.17,1838.80 946.10,1838.80 C948.20,1838.80 950.30,1837.73 952.40,1836.20 C953.67,1835.28 954.93,1832.70 956.20,1832.70 C957.47,1832.70 958.73,1837.50 960.00,1837.50 C962.57,1837.50 965.13,1832.40 967.70,1832.40 C968.97,1832.40 970.23,1835.60 971.50,1835.60 C972.53,1835.60 973.57,1833.27 974.60,1828.60 C975.23,1825.74 975.87,1805.98 976.50,1798.10 C976.87,1793.54 977.23,1786.70 977.60,1786.70 C978.00,1786.70 978.40,1792.39 978.80,1798.10 C979.33,1805.71 979.87,1828.24 980.40,1831.10 C981.03,1834.50 981.67,1836.20 982.30,1836.20 C983.33,1836.20 984.37,1833.00 985.40,1833.00 C987.10,1833.00 988.80,1838.10 990.50,1838.10 C992.00,1838.10 993.50,1836.20 995.00,1836.20 C996.03,1836.20 997.07,1837.70 998.10,1837.70 C999.40,1837.70 1000.70,1836.90 1002.00,1836.90 C1004.10,1836.90 1006.20,1839.40 1008.30,1839.40 C1010.20,1839.40 1012.10,1830.50 1014.00,1830.50 C1015.50,1830.50 1017.00,1835.00 1018.50,1835.00 C1019.77,1835.00 1021.03,1829.20 1022.30,1829.20 C1023.57,1829.20 1024.83,1834.16 1026.10,1835.00 C1028.00,1836.27 1029.90,1836.90 1031.80,1836.90 C1033.27,1836.90 1034.73,1835.60 1036.20,1833.00 C1037.07,1831.46 1037.93,1822.12 1038.80,1810.80 C1039.43,1802.53 1040.07,1779.70 1040.70,1779.70 C1041.33,1779.70 1041.97,1790.00 1042.60,1794.30 C1043.43,1799.95 1044.27,1799.64 1045.10,1808.30 C1045.67,1814.19 1046.23,1829.89 1046.80,1831.50 C1047.20,1832.63 1047.60,1833.20 1048.00,1833.20 C1048.73,1833.20 1049.47,1829.80 1050.20,1829.80 C1051.03,1829.80 1051.87,1833.20 1052.70,1833.20 C1053.53,1833.20 1054.37,1828.10 1055.20,1828.10 C1056.07,1828.10 1056.93,1831.47 1057.80,1833.20 C1058.77,1835.13 1059.73,1839.10 1060.70,1839.10 C1061.43,1839.10 1062.17,1837.47 1062.90,1835.70 C1064.17,1832.65 1065.43,1820.90 1066.70,1820.90 C1067.53,1820.90 1068.37,1821.30 1069.20,1822.10 C1069.90,1822.77 1070.60,1824.64 1071.30,1826.40 C1072.17,1828.57 1073.03,1834.40 1073.90,1834.40 C1074.60,1834.40 1075.30,1830.63 1076.00,1826.40 C1076.70,1822.17 1077.40,1809.00 1078.10,1809.00 C1078.67,1809.00 1079.23,1812.86 1079.80,1816.20 C1080.23,1818.75 1080.67,1825.50 1081.10,1825.50 C1081.50,1825.50 1081.90,1823.27 1082.30,1818.80 C1082.60,1815.45 1082.90,1802.76 1083.20,1790.80 C1083.47,1780.17 1083.73,1771.53 1084.00,1752.70 C1084.20,1738.58 1084.40,1722.65 1084.60,1700.00 C1084.83,1673.58 1085.07,1626.89 1085.30,1600.00 C1085.67,1557.75 1086.03,1521.00 1086.40,1521.00 C1086.77,1521.00 1087.13,1568.25 1087.50,1600.00 C1087.83,1628.86 1088.17,1673.61 1088.50,1700.00 C1088.70,1715.83 1088.90,1724.50 1089.10,1740.00 C1089.23,1750.34 1089.37,1768.69 1089.50,1773.90 C1089.93,1790.83 1090.37,1782.37 1090.80,1799.30 C1090.93,1804.51 1091.07,1823.73 1091.20,1824.70 C1091.93,1830.03 1092.67,1832.70 1093.40,1832.70 C1094.23,1832.70 1095.07,1831.87 1095.90,1830.20 C1096.73,1828.53 1097.57,1826.08 1098.40,1820.50 C1098.93,1816.93 1099.47,1806.90 1100.00,1806.90 C1100.60,1806.90 1101.20,1810.26 1101.80,1813.70 C1102.23,1816.19 1102.67,1821.60 1103.10,1823.00 C1103.80,1825.27 1104.50,1824.65 1105.20,1826.40 C1106.07,1828.56 1106.93,1833.42 1107.80,1835.70 C1108.90,1838.59 1110.00,1840.40 1111.10,1840.40 C1112.23,1840.40 1113.37,1839.67 1114.50,1838.20 C1115.37,1837.08 1116.23,1834.48 1117.10,1833.20 C1117.93,1831.97 1118.77,1830.60 1119.60,1830.60 C1120.60,1830.60 1121.60,1834.00 1122.60,1834.00 C1123.30,1834.00 1124.00,1827.00 1124.70,1820.50 C1125.20,1815.86 1125.70,1808.36 1126.20,1803.50 C1126.60,1799.61 1127.00,1793.40 1127.40,1793.40 C1127.77,1793.40 1128.13,1798.42 1128.50,1801.80 C1128.93,1805.79 1129.37,1811.14 1129.80,1816.20 C1130.37,1822.82 1130.93,1836.81 1131.50,1837.40 C1132.33,1838.27 1133.17,1838.70 1134.00,1838.70 C1135.70,1838.70 1137.40,1838.53 1139.10,1838.20 C1140.37,1837.95 1141.63,1833.60 1142.90,1833.60 C1143.73,1833.60 1144.57,1836.50 1145.40,1836.50 C1146.67,1836.50 1147.93,1834.00 1149.20,1834.00 C1150.33,1834.00 1151.47,1835.50 1152.60,1835.50 C1154.20,1835.50 1155.80,1823.90 1157.40,1823.90 C1158.77,1823.90 1160.13,1836.58 1161.50,1836.80 C1163.53,1837.13 1165.57,1837.30 1167.60,1837.30 C1169.57,1837.30 1171.53,1828.50 1173.50,1828.50 C1175.07,1828.50 1176.63,1834.10 1178.20,1834.10 C1179.40,1834.10 1180.60,1832.30 1181.80,1832.30 C1183.27,1832.30 1184.73,1835.00 1186.20,1835.00 C1188.23,1835.00 1190.27,1832.90 1192.30,1832.90 C1194.07,1832.90 1195.83,1836.20 1197.60,1836.20 C1199.07,1836.20 1200.53,1833.40 1202.00,1833.40 C1203.50,1833.40 1205.00,1835.86 1206.50,1836.20 C1208.27,1836.60 1210.03,1836.80 1211.80,1836.80 C1213.53,1836.80 1215.27,1824.90 1217.00,1824.90 C1218.50,1824.90 1220.00,1835.79 1221.50,1836.20 C1222.97,1836.60 1224.43,1836.80 1225.90,1836.80 C1228.23,1836.80 1230.57,1833.80 1232.90,1833.80 C1234.97,1833.80 1237.03,1836.80 1239.10,1836.80 C1241.27,1836.80 1243.43,1834.40 1245.60,1834.40 C1246.63,1834.40 1247.67,1836.20 1248.70,1836.20 C1249.97,1836.20 1251.23,1834.40 1252.50,1834.40 C1254.17,1834.40 1255.83,1838.41 1257.50,1838.50 C1260.00,1838.63 1262.50,1838.70 1265.00,1838.70 C1267.50,1838.70 1270.00,1837.76 1272.50,1837.20 C1275.40,1836.55 1278.30,1836.23 1281.20,1835.00 C1282.47,1834.46 1283.73,1833.80 1285.00,1833.10 C1286.37,1832.34 1287.73,1830.60 1289.10,1830.60 C1290.63,1830.60 1292.17,1836.90 1293.70,1836.90 C1296.20,1836.90 1298.70,1832.20 1301.20,1832.20 C1302.87,1832.20 1304.53,1836.90 1306.20,1836.90 C1308.70,1836.90 1311.20,1836.90 1313.70,1836.90 C1316.20,1836.90 1318.70,1838.10 1321.20,1838.10 C1323.50,1838.10 1325.80,1838.10 1328.10,1838.10 C1329.87,1838.10 1331.63,1831.90 1333.40,1831.90 C1335.17,1831.90 1336.93,1835.67 1338.70,1836.20 C1341.60,1837.07 1344.50,1836.85 1347.40,1837.50 C1350.73,1838.25 1354.07,1840.60 1357.40,1840.60 C1358.43,1840.60 1359.47,1839.40 1360.50,1839.40 C1363.63,1839.40 1366.77,1841.00 1369.90,1841.00 C1371.97,1841.00 1374.03,1839.40 1376.10,1839.40 C1378.20,1839.40 1380.30,1841.00 1382.40,1841.00 C1384.27,1841.00 1386.13,1839.40 1388.00,1839.40 C1389.27,1839.40 1390.53,1840.20 1391.80,1840.60" fill="none" stroke="#000" stroke-width="1.3" stroke-linejoin="round"/>
<line x1="549.2" y1="1138.9" x2="549.2" y2="1162.0" stroke="#e00000" stroke-width="2"/>
<line x1="573.0" y1="908.2" x2="573.0" y2="932.4" stroke="#e00000" stroke-width="2"/>
<line x1="633.1" y1="1004.6" x2="633.1" y2="1030.5" stroke="#e00000" stroke-width="2"/>
<line x1="1081.5" y1="779.9" x2="1081.5" y2="803.7" stroke="#e00000" stroke-width="2"/>
<line x1="1094.8" y1="1016.1" x2="1094.8" y2="1040.0" stroke="#e00000" stroke-width="2"/>
<line x1="552.6" y1="1773.1" x2="552.6" y2="1796.7" stroke="#e00000" stroke-width="2"/>
<line x1="577.0" y1="1592.9" x2="577.0" y2="1617.9" stroke="#e00000" stroke-width="2"/>
<line x1="637.3" y1="1715.4" x2="637.3" y2="1738.9" stroke="#e00000" stroke-width="2"/>
<line x1="1086.4" y1="1531.5" x2="1086.4" y2="1556.2" stroke="#e00000" stroke-width="2"/>
<line x1="1099.6" y1="1794.2" x2="1099.6" y2="1818.3" stroke="#e00000" stroke-width="2"/>
<text transform="translate(557.0,1133.5) rotate(-90)" font-size="21.3">17.77</text>
<text transform="translate(580.4,902.6) rotate(-90)" font-size="21.3">18.83</text>
<text transform="translate(640.4,1001.4) rotate(-90)" font-size="21.3">21.52</text>
<text transform="translate(1089.2,773.7) rotate(-90)" font-size="21.3">41.44</text>
<text transform="translate(1102.3,1009.8) rotate(-90)" font-size="21.3">42.03</text>
<text transform="translate(560.0,1767.4) rotate(-90)" font-size="21.3">17.75</text>
<text transform="translate(584.9,1588.0) rotate(-90)" font-size="21.3">18.85</text>
<text transform="translate(645.5,1708.8) rotate(-90)" font-size="21.3">21.53</text>
<text transform="translate(1093.8,1524.8) rotate(-90)" font-size="21.3">41.43</text>
<text transform="translate(1107.0,1788.0) rotate(-90)" font-size="21.3">42.03</text>
<path d="M552.2,1042.3 L553.1,1042.3 L553.1,1065.6 Q553.3,1067.3 556.1,1067.6 L556.1,1069.0 L545.3,1069.0 L545.3,1067.6 Q548.6,1067.3 548.8,1065.6 L548.8,1047.4 Q548.6,1046.3 547.4,1046.5 L545.7,1047.0 L545.1,1045.6 Z" fill="#000"/>
<text x="564.0" y="843.5" font-size="39.5" stroke="#000" stroke-width="1.0" fill="#000">2</text>
<text x="627.2" y="925.4" font-size="39.5" stroke="#000" stroke-width="1.0" fill="#000">3</text>
<text x="1071.6" y="696.9" font-size="39.5" stroke="#000" stroke-width="1.0" fill="#000">4</text>
<text x="1089.6" y="937.6" font-size="39.5" stroke="#000" stroke-width="1.0" fill="#000">5</text>
</svg>
</body></html>
